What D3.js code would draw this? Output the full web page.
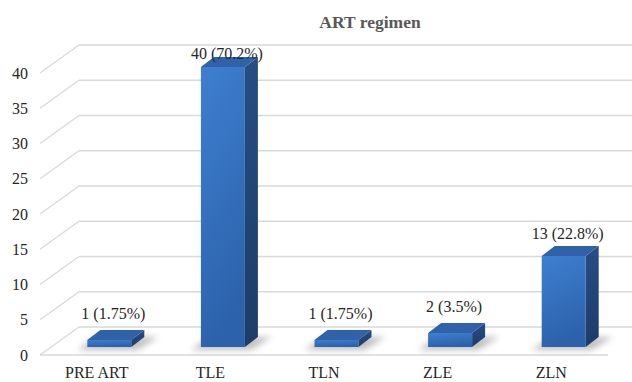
<!DOCTYPE html>
<html>
<head>
<meta charset="utf-8">
<script src="https://cdn.jsdelivr.net/npm/d3@7"></script>
<style>
  html, body { margin: 0; padding: 0; background: #fff; }
  svg { display: block; }
</style>
</head>
<body>
<svg id="chart" width="632" height="382"></svg>
<script>
const title = "ART regimen";
const categories = ["PRE ART", "TLE", "TLN", "ZLE", "ZLN"];
const counts = [1, 40, 1, 2, 13];
const percents = ["1.75", "70.2", "1.75", "3.5", "22.8"];
const yTicks = [0, 5, 10, 15, 20, 25, 30, 35, 40];

const W = 632, H = 382;
const svg = d3.select("#chart");
const serif = "'Liberation Serif', 'Times New Roman', Times, serif";

// geometry of the oblique 3D box
const floorLeft = 40, floorRight = 608, floorFront = 355;
const wallDX = 39, wallDY = 28;          // depth of the whole floor
const barShiftX = 12.5, barShiftY = 8;   // front plane of bars
const barDX = 13, barDY = 10;            // depth of a bar
const barW = 44;

const x = d3.scaleBand().domain(categories).range([floorLeft, floorRight]);
const yWall = d3.scaleLinear().domain([0, 40]).range([floorFront - wallDY, floorFront - wallDY - 282]);
const yBar = d3.scaleLinear().domain([0, 40]).range([floorFront - barShiftY, floorFront - barShiftY - 280]);

const defs = svg.append("defs");
const gFront = defs.append("linearGradient").attr("id", "gFront").attr("x1", 0).attr("y1", 0).attr("x2", 0.25).attr("y2", 1);
gFront.append("stop").attr("offset", "0%").attr("stop-color", "#3e7fd0");
gFront.append("stop").attr("offset", "100%").attr("stop-color", "#2c62ab");
const gSide = defs.append("linearGradient").attr("id", "gSide").attr("x1", 0).attr("y1", 0).attr("x2", 0).attr("y2", 1);
gSide.append("stop").attr("offset", "0%").attr("stop-color", "#274d85");
gSide.append("stop").attr("offset", "100%").attr("stop-color", "#1d3c68");
const blur = defs.append("filter").attr("id", "blur").attr("x", "-50%").attr("y", "-50%").attr("width", "200%").attr("height", "200%");
blur.append("feGaussianBlur").attr("stdDeviation", 3);

// gridlines: back wall + side wall diagonals
const grid = svg.append("g").attr("stroke", "#d9d9d9").attr("stroke-width", 1.3).attr("fill", "none");
yTicks.forEach(t => {
  const yb = yWall(t);
  grid.append("line").attr("x1", floorLeft + wallDX).attr("y1", yb).attr("x2", W + 20).attr("y2", yb);
  grid.append("line").attr("x1", floorLeft).attr("y1", yb + wallDY).attr("x2", floorLeft + wallDX).attr("y2", yb);
});
// floor front edge
grid.append("line").attr("x1", floorLeft).attr("y1", floorFront).attr("x2", floorRight).attr("y2", floorFront);

// y tick labels
svg.append("g").selectAll("text").data(yTicks).join("text")
  .attr("x", 28).attr("y", d => yWall(d) + wallDY)
  .attr("dy", "0.35em").attr("text-anchor", "end")
  .attr("font-family", serif)
  .attr("font-size", 16).attr("fill", "#262626")
  .text(d => d);

// category labels
svg.append("g").selectAll("text").data(categories).join("text")
  .attr("x", d => x(d) + x.bandwidth() / 2).attr("y", 372)
  .attr("dy", "0.35em").attr("text-anchor", "middle")
  .attr("font-family", serif)
  .attr("font-size", 16).attr("fill", "#262626")
  .text(d => d);

// bars
const data = categories.map((c, i) => ({ c, v: counts[i], p: percents[i] }));
const bars = svg.append("g").selectAll("g").data(data).join("g");

bars.each(function (d) {
  const g = d3.select(this);
  const cx = x(d.c) + x.bandwidth() / 2 + barShiftX;
  const L = cx - barW / 2, R = cx + barW / 2;
  const top = yBar(d.v), bot = yBar(0);
  // shadow on the floor
  g.append("polygon")
    .attr("points", [[L - 10, bot + 3], [R + 6, bot + 3], [R + barDX + 14, bot - barDY], [L + barDX - 4, bot - barDY]].map(p => p.join(",")).join(" "))
    .attr("fill", "#8c8c8c").attr("opacity", 0.55).attr("filter", "url(#blur)");
  // side face
  g.append("polygon")
    .attr("points", [[R, top], [R + barDX, top - barDY], [R + barDX, bot - barDY], [R, bot]].map(p => p.join(",")).join(" "))
    .attr("fill", "url(#gSide)");
  // top face
  g.append("polygon")
    .attr("points", [[L, top], [R, top], [R + barDX, top - barDY], [L + barDX, top - barDY]].map(p => p.join(",")).join(" "))
    .attr("fill", "#2f62a8");
  // front face
  g.append("rect")
    .attr("x", L).attr("y", top).attr("width", barW).attr("height", bot - top)
    .attr("fill", "url(#gFront)");
  // value label
  g.append("text")
    .attr("x", cx + 4).attr("y", 0.95 * top - 10)
    .attr("dy", "0.35em").attr("text-anchor", "middle")
    .attr("font-family", serif)
    .attr("font-size", 16).attr("fill", "#262626")
    .text(`${d.v} (${d.p}%)`);
});

// title
svg.append("text")
  .attr("x", 370).attr("y", 28).attr("text-anchor", "middle")
  .attr("font-family", serif)
  .attr("font-size", 17.5).attr("font-weight", "bold").attr("fill", "#595959")
  .text(title);
</script>
</body>
</html>
